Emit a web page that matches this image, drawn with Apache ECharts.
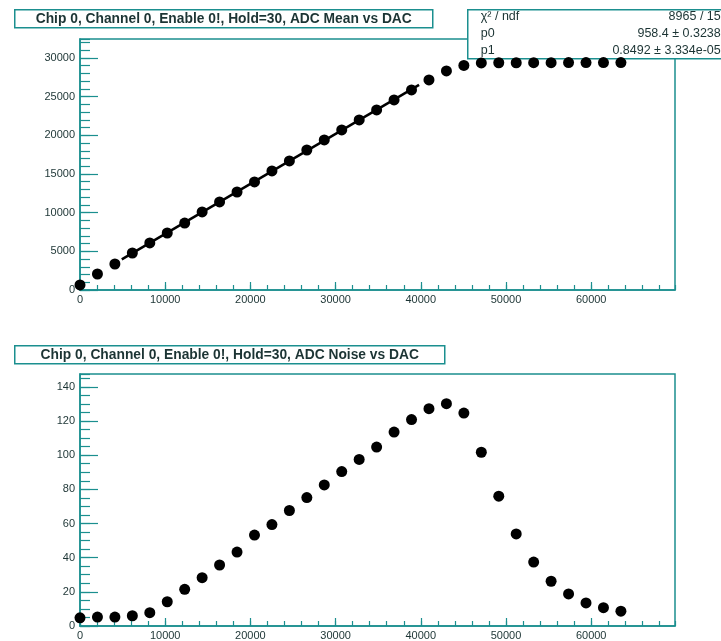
<!DOCTYPE html>
<html>
<head>
<meta charset="utf-8">
<script src="https://cdn.jsdelivr.net/npm/echarts@6/dist/echarts.min.js"></script>
<style>
  html, body { margin: 0; padding: 0; background: #ffffff; }
  #chart { width: 721px; height: 641px; }
</style>
</head>
<body>
<div id="chart"></div>
<script>
// DAC settings scanned (step 2048)
const dac = [0, 2048, 4096, 6144, 8192, 10240, 12288, 14336, 16384, 18432,
  20480, 22528, 24576, 26624, 28672, 30720, 32768, 34816, 36864, 38912,
  40960, 43008, 45056, 47104, 49152, 51200, 53248, 55296, 57344, 59392,
  61440, 63488];

// ADC mean per DAC setting
const adcMean = [650, 2070, 3360, 4785, 6080, 7370, 8660, 10090, 11380, 12670,
  13970, 15390, 16680, 18100, 19400, 20690, 21980, 23280, 24570, 25860,
  27160, 28320, 29030, 29360, 29380, 29380, 29390, 29390, 29400, 29400,
  29400, 29400];

// ADC noise per DAC setting
const adcNoise = [4.8, 5.2, 5.2, 6.0, 7.8, 14.2, 21.5, 28.3, 35.7, 43.3,
  53.2, 59.4, 67.6, 75.2, 82.6, 90.4, 97.5, 104.7, 113.5, 120.8,
  127.2, 130.1, 124.6, 101.7, 76.0, 53.9, 37.4, 26.2, 18.8, 13.5,
  10.7, 8.7];

// Linear fit window (DAC)
const fitRange = [4900, 39800];

// Fit statistics box
const statsRows = [
  ['\u03C7\u00B2 / ndf', '8965 / 15'],
  ['p0', '958.4 \u00B1 0.3238'],
  ['p1', '0.8492 \u00B1 3.334e-05']
];

const titleMean = 'Chip 0, Channel 0, Enable 0!, Hold=30, ADC Mean vs DAC';
const titleNoise = 'Chip 0, Channel 0, Enable 0!, Hold=30, ADC Noise vs DAC';

// least squares line over the points inside the fit window
function linearFit(xs, ys, lo, hi) {
  let n = 0, sx = 0, sy = 0, sxx = 0, sxy = 0;
  xs.forEach((x, i) => {
    if (x >= lo && x <= hi) {
      n++; sx += x; sy += ys[i]; sxx += x * x; sxy += x * ys[i];
    }
  });
  const b = (n * sxy - sx * sy) / (n * sxx - sx * sx);
  const a = (sy - b * sx) / n;
  return { a, b };
}
const fit = linearFit(dac, adcMean, fitRange[0], fitRange[1]);
const fitLine = fitRange.map(x => [x, fit.a + fit.b * x]);

const FRAME = '#1b8f8f';
const TEXT = '#1c3434';
const FONT = "'Liberation Sans', Arial, sans-serif";
const X_MAX = 69837;
const plain = v => String(v);

const grids = [
  { left: 80, top: 39, width: 595, height: 251 },
  { left: 80, top: 374, width: 595, height: 252 }
].map(g => Object.assign(g, {
  show: true, borderColor: FRAME, borderWidth: 1.5, backgroundColor: '#ffffff'
}));

function majorX(gi) {
  return {
    type: 'value', gridIndex: gi, min: 0, max: X_MAX, interval: 10000,
    position: 'bottom',
    axisLine: { show: true, lineStyle: { color: FRAME, width: 1.5 } },
    axisTick: { show: true, inside: true, length: 8, lineStyle: { color: FRAME, width: 1.2 } },
    axisLabel: { show: true, color: TEXT, fontSize: 11, fontFamily: FONT, margin: 4,
      formatter: plain, showMinLabel: true, showMaxLabel: false },
    splitLine: { show: false }
  };
}
function minorX(gi) {
  return {
    type: 'value', gridIndex: gi, min: 0, max: X_MAX, interval: 2000,
    position: 'bottom',
    axisLine: { show: false },
    axisTick: { show: true, inside: true, length: 5, lineStyle: { color: FRAME, width: 1.2 } },
    axisLabel: { show: false },
    splitLine: { show: false }
  };
}
function majorY(gi, max, interval) {
  return {
    type: 'value', gridIndex: gi, min: 0, max: max, interval: interval,
    position: 'left',
    axisLine: { show: true, lineStyle: { color: FRAME, width: 1.5 } },
    axisTick: { show: true, inside: true, length: 18, lineStyle: { color: FRAME, width: 1.2 } },
    axisLabel: { show: true, color: TEXT, fontSize: 11, fontFamily: FONT, margin: 5,
      formatter: plain, showMinLabel: true, showMaxLabel: false },
    splitLine: { show: false }
  };
}
function minorY(gi, max, interval) {
  return {
    type: 'value', gridIndex: gi, min: 0, max: max, interval: interval,
    position: 'left',
    axisLine: { show: false },
    axisTick: { show: true, inside: true, length: 10, lineStyle: { color: FRAME, width: 1.2 } },
    axisLabel: { show: false },
    splitLine: { show: false }
  };
}

function titleBox(x, y, w, h, text) {
  return {
    type: 'group', left: x, top: y, z: 50,
    children: [
      { type: 'rect', shape: { x: 0, y: 0, width: w, height: h },
        style: { fill: '#ffffff', stroke: FRAME, lineWidth: 1.5 } },
      { type: 'text', x: w / 2, y: h / 2 + 0.5,
        style: { text: text, fill: TEXT, font: 'bold 13.8px ' + FONT,
          align: 'center', verticalAlign: 'middle' } }
    ]
  };
}

const statsChildren = [
  { type: 'rect', shape: { x: 0, y: 0, width: 260, height: 49 },
    style: { fill: '#ffffff', stroke: FRAME, lineWidth: 1.5 } }
];
statsRows.forEach((row, i) => {
  const cy = 7 + i * 17;
  statsChildren.push({ type: 'text', x: 13, y: cy,
    style: { text: row[0], fill: TEXT, font: '12.5px ' + FONT, align: 'left', verticalAlign: 'middle' } });
  statsChildren.push({ type: 'text', x: 253, y: cy,
    style: { text: row[1], fill: TEXT, font: '12.5px ' + FONT, align: 'right', verticalAlign: 'middle' } });
});

const marker = { color: '#000000', opacity: 1 };

const option = {
  backgroundColor: '#ffffff',
  animation: false,
  grid: grids,
  xAxis: [majorX(0), minorX(0), majorX(1), minorX(1)],
  yAxis: [majorY(0, 32450, 5000), minorY(0, 32450, 1000),
          majorY(1, 147.5, 20), minorY(1, 147.5, 5)],
  series: [
    {
      type: 'line', xAxisIndex: 0, yAxisIndex: 0, data: fitLine,
      symbol: 'none', lineStyle: { color: '#000000', width: 2.5 }, z: 3
    },
    {
      type: 'scatter', xAxisIndex: 0, yAxisIndex: 0,
      data: dac.map((x, i) => [x, adcMean[i]]),
      symbol: 'circle', symbolSize: 11, itemStyle: marker, z: 4
    },
    {
      type: 'scatter', xAxisIndex: 2, yAxisIndex: 2,
      data: dac.map((x, i) => [x, adcNoise[i]]),
      symbol: 'circle', symbolSize: 11, itemStyle: marker, z: 4
    }
  ],
  graphic: [
    titleBox(14, 9, 418, 18, titleMean),
    titleBox(14, 345, 430, 18, titleNoise),
    { type: 'group', left: 467, top: 9, z: 60, children: statsChildren }
  ]
};

const chart = echarts.init(document.getElementById('chart'), null, { renderer: 'canvas' });
chart.setOption(option);
</script>
</body>
</html>
